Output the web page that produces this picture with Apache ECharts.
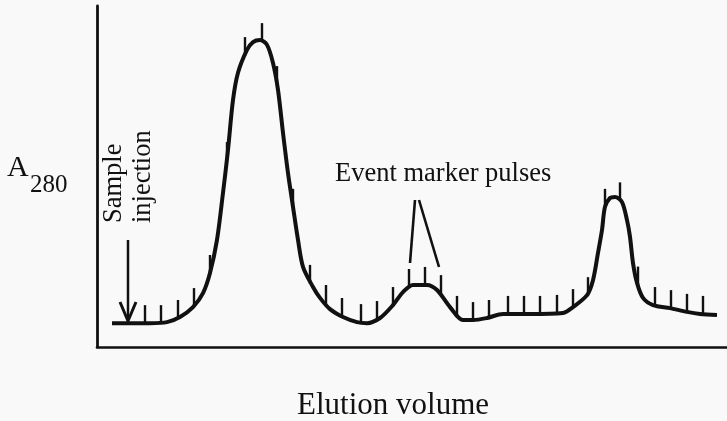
<!DOCTYPE html>
<html>
<head>
<meta charset="utf-8">
<script src="https://cdn.jsdelivr.net/npm/echarts@6/dist/echarts.min.js"></script>
<style>
html,body{margin:0;padding:0;background:#f9f9f9;}
#chart{width:727px;height:421px;}
</style>
</head>
<body>
<div id="chart"></div>
<script>
// Chromatogram trace: elution volume (arbitrary units) vs A280 (arbitrary units)
const elutionVolume = [1.5,3.3,5.3,7.0,8.3,9.6,10.6,11.3,12.0,12.6,13.1,13.6,14.1,15.0,15.6,16.3,17.0,17.6,18.1,18.6,19.1,19.6,20.1,20.6,21.6,22.3,23.3,24.6,26.0,27.0,28.3,29.6,30.6,31.6,33.0,34.0,35.3,36.6,37.6,39.0,40.6,43.3,46.6,47.6,49.0,49.6,50.1,50.5,50.8,51.3,51.8,52.5,53.0,53.3,53.6,54.0,54.6,55.6,57.3,59.0,60.3,62.0];
const absorbance = [0.070,0.070,0.070,0.073,0.088,0.117,0.158,0.217,0.314,0.452,0.578,0.724,0.804,0.871,0.894,0.900,0.886,0.833,0.754,0.628,0.510,0.411,0.314,0.235,0.176,0.144,0.111,0.088,0.073,0.070,0.085,0.123,0.161,0.182,0.182,0.167,0.117,0.079,0.079,0.085,0.097,0.097,0.100,0.117,0.152,0.196,0.276,0.343,0.411,0.437,0.440,0.425,0.372,0.323,0.246,0.188,0.144,0.123,0.114,0.103,0.097,0.094];

// Event marker pulses: volume at which each pulse occurs and trace level there
const pulseVolume = [4.8,6.4,8.1,9.7,11.3,13.0,14.8,16.5,18.0,19.6,21.3,22.9,24.5,26.4,28.0,29.6,31.2,32.8,34.4,36.0,37.6,39.2,41.1,42.7,44.3,46.0,47.6,49.1,50.8,52.3,54.1,55.8,57.4,59.0,60.6];
const pulseLevel = [0.070,0.070,0.085,0.120,0.217,0.548,0.856,0.897,0.771,0.411,0.188,0.129,0.091,0.073,0.082,0.123,0.176,0.182,0.158,0.097,0.079,0.085,0.097,0.097,0.097,0.100,0.117,0.152,0.411,0.430,0.183,0.123,0.114,0.103,0.097];

const axisTitleX = 'Elution volume';
const axisTitleY = ['A', '280'];
const noteInjection = ['Sample', 'injection'];
const notePulses = 'Event marker pulses';

const trace = elutionVolume.map((v, i) => [v, absorbance[i]]);
const pulses = pulseVolume.map((v, i) => [v, pulseLevel[i]]);

const serif = "'Liberation Serif','Times New Roman',serif";
const ink = '#111';

const chart = echarts.init(document.getElementById('chart'), null, {renderer: 'canvas'});
chart.setOption({
  backgroundColor: '#f9f9f9',
  animation: false,
  grid: {left: 97, right: 0, top: 6, bottom: 74},
  xAxis: {
    type: 'value', min: 0, max: 63,
    axisLine: {show: true, lineStyle: {color: ink, width: 2.6}},
    axisTick: {show: false}, axisLabel: {show: false}, splitLine: {show: false}
  },
  yAxis: {
    type: 'value', min: 0, max: 1,
    axisLine: {show: true, lineStyle: {color: ink, width: 2.8}},
    axisTick: {show: false}, axisLabel: {show: false}, splitLine: {show: false}
  },
  series: [
    {
      type: 'line',
      data: trace,
      smooth: 0.3,
      showSymbol: false,
      lineStyle: {color: ink, width: 4},
      z: 3
    },
    {
      type: 'custom',
      data: pulses,
      renderItem: function (params, api) {
        const p = api.coord([api.value(0), api.value(1)]);
        return {
          type: 'line',
          shape: {x1: p[0], y1: p[1] + 1, x2: p[0], y2: p[1] - 18},
          style: {stroke: ink, lineWidth: 2.4}
        };
      },
      z: 2
    }
  ],
  graphic: [
    {type: 'text', x: 7, y: 168, style: {text: axisTitleY[0], font: '30px ' + serif, fill: ink, align: 'left', verticalAlign: 'middle'}},
    {type: 'text', x: 30, y: 185, style: {text: axisTitleY[1], font: '25px ' + serif, fill: ink, align: 'left', verticalAlign: 'middle'}},
    {type: 'text', x: 393, y: 406, style: {text: axisTitleX, font: '31px ' + serif, fill: ink, align: 'center', verticalAlign: 'middle'}},
    {type: 'text', x: 335, y: 174, style: {text: notePulses, font: '26.5px ' + serif, fill: ink, align: 'left', verticalAlign: 'middle'}},
    {type: 'text', x: 114, y: 223, rotation: Math.PI / 2, style: {text: noteInjection[0], font: '26.5px ' + serif, fill: ink, align: 'left', verticalAlign: 'middle'}},
    {type: 'text', x: 143, y: 223, rotation: Math.PI / 2, style: {text: noteInjection[1], font: '26.5px ' + serif, fill: ink, align: 'left', verticalAlign: 'middle'}},
    {type: 'line', shape: {x1: 128, y1: 240, x2: 128, y2: 320}, style: {stroke: ink, lineWidth: 2.5}},
    {type: 'polyline', shape: {points: [[120, 302], [128, 321], [136, 302]]}, style: {stroke: ink, lineWidth: 3, fill: null}},
    {type: 'line', shape: {x1: 415, y1: 200, x2: 410, y2: 263}, style: {stroke: ink, lineWidth: 2.6}},
    {type: 'line', shape: {x1: 419, y1: 200, x2: 439, y2: 267}, style: {stroke: ink, lineWidth: 2.6}}
  ]
});
</script>
</body>
</html>
